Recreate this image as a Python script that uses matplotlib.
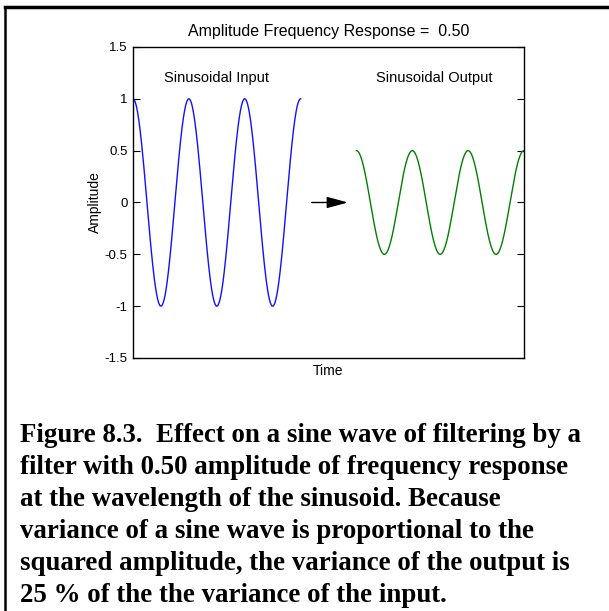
import numpy as np
import matplotlib.pyplot as plt
from matplotlib.lines import Line2D

# ------------------------------
# Chart values
# ------------------------------
input_amplitude = 1.0
response = 0.50                  # amplitude frequency response
n_cycles = 3                     # cycles drawn for each wave
input_start, output_start = 0.0, 4.0
x_limits = (0.0, 7.0)
y_ticks = [-1.5, -1.0, -0.5, 0.0, 0.5, 1.0, 1.5]
y_tick_labels = ["-1.5", "-1", "-0.5", "0", "0.5", "1", "1.5"]
arrow_x = (3.2, 3.85)
labels = ["Sinusoidal Input", "Sinusoidal Output"]
label_x = [1.5, 5.4]
label_y = 1.2

caption = ("Figure 8.3.  Effect on a sine wave of filtering by a\n"
           "filter with 0.50 amplitude of frequency response\n"
           "at the wavelength of the sinusoid. Because\n"
           "variance of a sine wave is proportional to the\n"
           "squared amplitude, the variance of the output is\n"
           "25 % of the the variance of the input.")

# ------------------------------
# Curves: cosine waves, period 1
# ------------------------------
t = np.linspace(0.0, n_cycles, 400)
y_in = input_amplitude * np.cos(2 * np.pi * t)
y_out = response * input_amplitude * np.cos(2 * np.pi * t)

fig = plt.figure(figsize=(6.09, 6.11), dpi=100)
ax = fig.add_axes([0.2184, 0.4141, 0.642, 0.509])

ax.plot(input_start + t, y_in, color="#1010ff", linewidth=1.0)
ax.plot(output_start + t, y_out, color="#008000", linewidth=1.0)

ax.annotate("", xy=(arrow_x[1], 0), xytext=(arrow_x[0], 0),
            arrowprops=dict(arrowstyle="-|>,head_length=1.3,head_width=0.35",
                            color="black", lw=1.0, shrinkA=0, shrinkB=0))

for lab, lx in zip(labels, label_x):
    ax.text(lx, label_y, lab, ha="center", va="center", fontsize=10.5,
            family="Liberation Sans")

ax.set_xlim(*x_limits)
ax.set_ylim(-1.5, 1.5)
ax.set_xticks([])
ax.set_yticks(y_ticks)
ax.set_yticklabels(y_tick_labels, family="Liberation Sans", fontsize=9.5)
ax.tick_params(axis="y", direction="in", length=5, right=True, pad=4)
for sp in ax.spines.values():
    sp.set_linewidth(1.0)

ax.set_title("Amplitude Frequency Response =  0.50", fontsize=11.5,
             family="Liberation Sans", pad=8)
ax.set_ylabel("Amplitude", fontsize=10, family="Liberation Sans", labelpad=2)
ax.set_xlabel("Time", fontsize=10, family="Liberation Sans", labelpad=4)

# caption in bold serif
fig.text(0.033, 0.308, caption, ha="left", va="top", fontsize=19.4,
         family="Liberation Serif", fontweight="bold", linespacing=1.375)

# frame lines (top and left only)
fig.add_artist(Line2D([0.008, 1.0], [0.988, 0.988], transform=fig.transFigure,
                      color="black", linewidth=2.5))
fig.add_artist(Line2D([0.009, 0.009], [0.0, 0.988], transform=fig.transFigure,
                      color="black", linewidth=1.8))

fig.savefig("out.png", dpi=100)
